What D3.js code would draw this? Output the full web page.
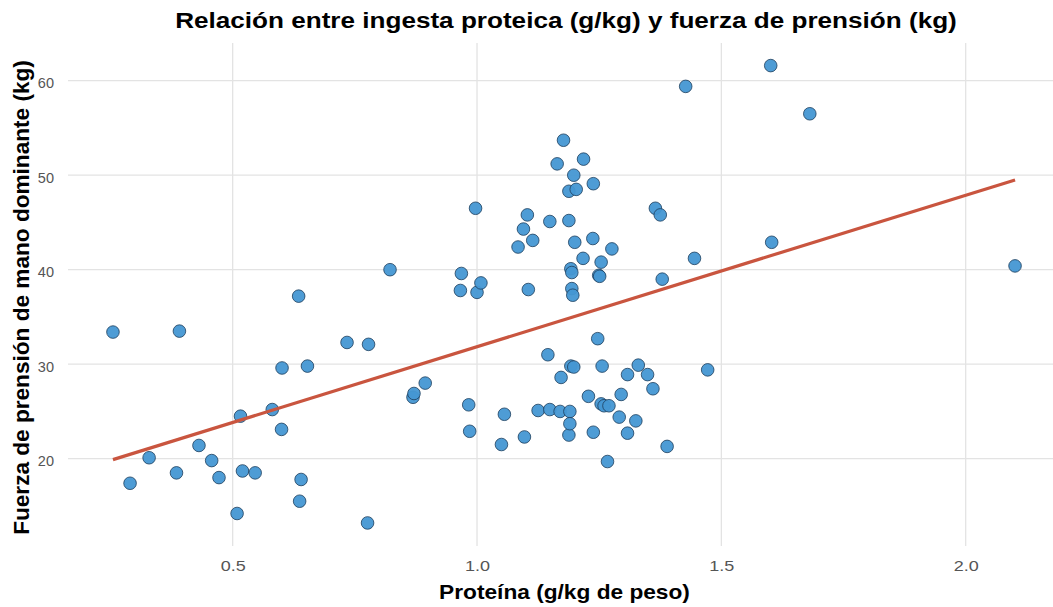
<!DOCTYPE html>
<html>
<head>
<meta charset="utf-8">
<script src="https://cdn.jsdelivr.net/npm/d3@7"></script>
<style>
  html, body { margin: 0; padding: 0; background: #ffffff; }
  svg { display: block; font-family: "Liberation Sans", Arial, sans-serif; }
</style>
</head>
<body>
<svg id="chart" width="1053" height="607"></svg>
<script>
// ---- Data ----
const protein = [
  0.255, 0.391, 0.290, 0.329, 0.385, 0.431, 0.457, 0.472, 0.509, 0.516,
  0.520, 0.546, 0.581, 0.600, 0.601, 0.635, 0.637, 0.640, 0.653, 0.734,
  0.776, 0.778, 0.822, 0.869, 0.871, 0.894, 0.966, 0.968, 0.983, 0.985,
  0.997, 1.000, 1.008, 1.050, 1.056, 1.084, 1.095, 1.097, 1.103, 1.105,
  1.114, 1.125, 1.145, 1.149, 1.149, 1.164, 1.170, 1.172, 1.177, 1.188,
  1.188, 1.188, 1.190, 1.190, 1.192, 1.192, 1.194, 1.194, 1.196, 1.198,
  1.198, 1.200, 1.203, 1.217, 1.218, 1.228, 1.237, 1.238, 1.238, 1.247,
  1.249, 1.251, 1.254, 1.254, 1.256, 1.260, 1.267, 1.270, 1.276, 1.291,
  1.295, 1.308, 1.308, 1.325, 1.330, 1.349, 1.360, 1.365, 1.375, 1.379,
  1.389, 1.427, 1.445, 1.472, 1.601, 1.603, 1.681, 2.101
];
const grip = [
  33.4, 33.5, 17.4, 20.1, 18.5, 21.4, 19.8, 18.0, 14.2, 24.5,
  18.7, 18.5, 25.2, 23.1, 29.6, 37.2, 15.5, 17.8, 29.8, 32.3,
  13.2, 32.1, 40.0, 26.5, 26.9, 28.0, 37.8, 39.6, 25.7, 22.9,
  46.5, 37.6, 38.6, 21.5, 24.7, 42.4, 44.3, 22.3, 45.8, 37.9,
  43.1, 25.1, 31.0, 45.1, 25.2, 51.2, 25.0, 28.6, 53.7, 48.3,
  45.2, 22.5, 25.0, 23.7, 40.1, 29.8, 39.7, 38.0, 37.3, 50.0,
  29.7, 42.9, 48.5, 41.2, 51.7, 26.6, 43.3, 49.1, 22.8, 32.7,
  39.4, 39.3, 40.8, 25.8, 29.8, 25.6, 19.7, 25.6, 42.2, 24.4,
  26.8, 28.9, 22.7, 24.0, 29.9, 28.9, 27.4, 46.5, 45.8, 39.0,
  21.3, 59.4, 41.2, 29.4, 61.6, 42.9, 56.5, 40.4
];
// fitted regression line (endpoints)
const fitX = [0.255, 2.101];
const fitY = [19.9, 49.5];
const xTicks = [0.5, 1.0, 1.5, 2.0];
const yTicks = [20, 30, 40, 50, 60];

const titleText = "Relación entre ingesta proteica (g/kg) y fuerza de prensión (kg)";
const xLabel = "Proteína (g/kg de peso)";
const yLabel = "Fuerza de prensión de mano dominante (kg)";

// ---- Layout ----
const panel = { left: 68, right: 1060, top: 43, bottom: 546 };
const svg = d3.select("#chart");
const FONT = "'Liberation Sans', Arial, sans-serif";

const x = d3.scaleLinear().domain([0.163, 2.193]).range([panel.left, panel.right]);
const y = d3.scaleLinear().domain([10.76, 63.99]).range([panel.bottom, panel.top]);

// grid lines
const grid = svg.append("g");
grid.selectAll("line.vx").data(xTicks).enter().append("line")
  .attr("x1", d => x(d)).attr("x2", d => x(d))
  .attr("y1", panel.top).attr("y2", panel.bottom)
  .attr("stroke", "#e3e3e3").attr("stroke-width", 1.3);
grid.selectAll("line.hy").data(yTicks).enter().append("line")
  .attr("y1", d => y(d)).attr("y2", d => y(d))
  .attr("x1", panel.left).attr("x2", panel.right)
  .attr("stroke", "#e3e3e3").attr("stroke-width", 1.3);

// axes (labels only, theme_minimal style)
const xAxis = d3.axisBottom(x).tickValues(xTicks).tickFormat(d3.format(".1f")).tickSize(0).tickPadding(0);
const gx = svg.append("g").attr("transform", `translate(0,${panel.bottom + 14})`).call(xAxis);
gx.select(".domain").remove();
gx.selectAll(".tick text").attr("fill", "#555555").style("font-size", "15px")
  .style("font-family", FONT).attr("transform", "scale(1.2,1)")
  .attr("x", 0);
// keep labels centred on their tick after horizontal stretch
gx.selectAll(".tick").each(function () {
  const t = d3.select(this);
  t.select("text").attr("transform", "scale(1.2,1)");
});

const yAxis = d3.axisLeft(y).tickValues(yTicks).tickFormat(d3.format("d")).tickSize(0).tickPadding(0);
const gy = svg.append("g").attr("transform", `translate(${panel.left - 14},2.5)`).call(yAxis);
gy.select(".domain").remove();
gy.selectAll("text").attr("fill", "#555555").style("font-size", "14.5px")
  .style("font-family", FONT);

// points
const pts = protein.map((p, i) => ({ p, g: grip[i] }));
svg.append("g").selectAll("circle").data(pts).enter().append("circle")
  .attr("cx", d => x(d.p)).attr("cy", d => y(d.g)).attr("r", 6.3)
  .attr("fill", "#4597d3").attr("fill-opacity", 0.95)
  .attr("stroke", "#1d3d5c").attr("stroke-width", 0.8);

// regression line
const line = d3.line().x(d => x(d[0])).y(d => y(d[1]));
svg.append("path").datum(fitX.map((v, i) => [v, fitY[i]]))
  .attr("d", line).attr("fill", "none")
  .attr("stroke", "#c9553f").attr("stroke-width", 3.2).attr("stroke-linecap", "butt");

// titles: stretched along their baseline to the measured length
function fitted(text, size, cx, cy, rot, target) {
  const t = svg.append("text").attr("x", 0).attr("y", 0).attr("text-anchor", "middle")
    .style("font-size", size + "px").style("font-weight", "bold")
    .style("font-family", FONT).attr("fill", "#000").text(text);
  const len = t.node().getComputedTextLength();
  const s = target / len;
  t.attr("transform", `translate(${cx},${cy}) rotate(${rot}) scale(${s},1)`);
  return t;
}
fitted(titleText, 22.5, 566, 28, 0, 782);
fitted(xLabel, 20, 564.5, 599, 0, 251);
fitted(yLabel, 22, 29, 297.5, -90, 475);
</script>
</body>
</html>
